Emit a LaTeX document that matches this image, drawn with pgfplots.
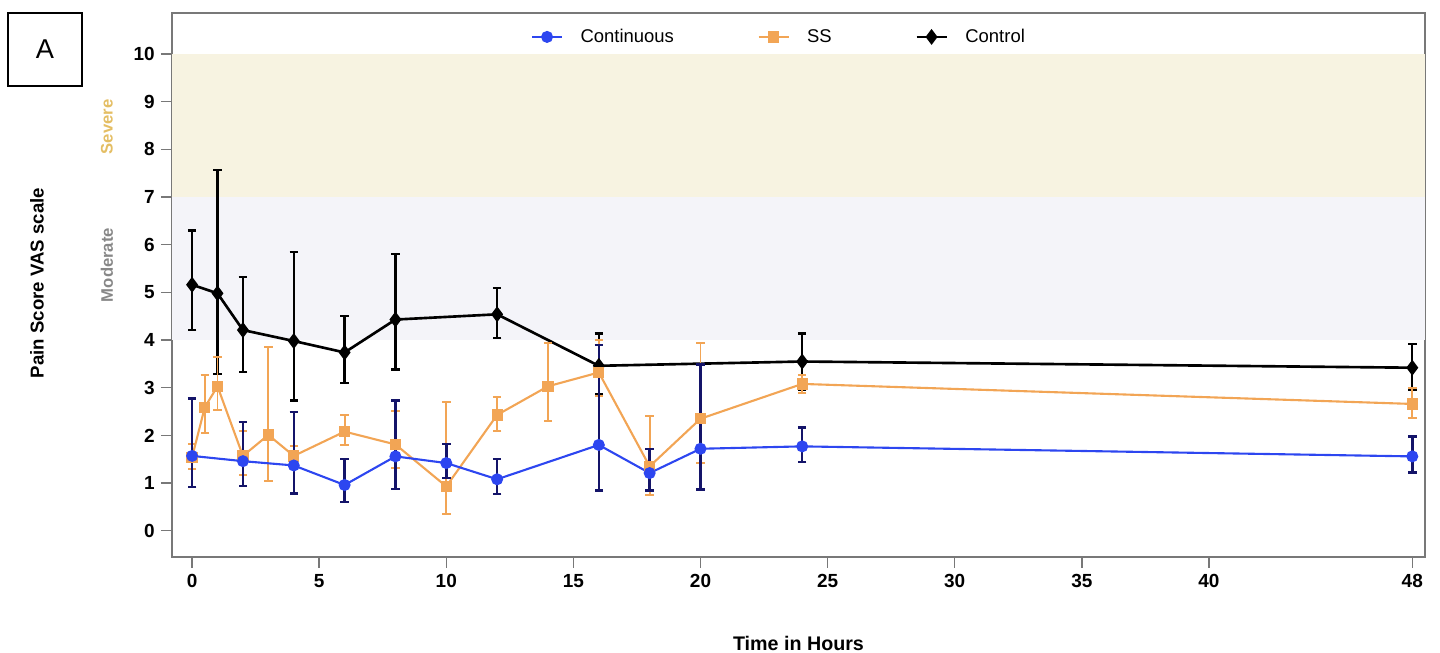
\documentclass[border=0pt]{standalone}
\usepackage{fontspec}
\setmainfont{Liberation Sans}
\usepackage{pgfplots}
\usepackage{pgfplotstable}
\pgfplotsset{compat=1.18}

\definecolor{contblue}{RGB}{45,70,240}
\definecolor{contbar}{RGB}{20,20,105}
\definecolor{ssorange}{RGB}{242,165,85}
\definecolor{severefill}{RGB}{247,243,225}
\definecolor{moderatefill}{RGB}{244,244,249}
\definecolor{severetext}{RGB}{228,190,100}
\definecolor{moderatetext}{RGB}{135,135,135}
\definecolor{framegray}{RGB}{120,120,120}

% time, value, error plus, error minus
\pgfplotstableread{
t    v     ep    em
0    1.57  1.20  0.65
2    1.46  0.82  0.52
4    1.37  1.12  0.59
6    0.96  0.55  0.36
8    1.56  1.17  0.68
10   1.42  0.40  0.31
12   1.08  0.43  0.31
16   1.80  2.10  0.96
18   1.21  0.51  0.37
20   1.72  1.77  0.85
24   1.77  0.40  0.33
48   1.56  0.42  0.34
}\continuous

\pgfplotstableread{
t    v     ep    em
0    1.54  0.28  0.24
0.5  2.59  0.67  0.53
1    3.03  0.62  0.49
2    1.57  0.53  0.41
3    2.01  1.85  0.96
4    1.57  0.21  0.27
6    2.08  0.35  0.29
8    1.81  0.71  0.50
10   0.93  1.77  0.58
12   2.43  0.37  0.33
14   3.03  0.90  0.72
16   3.32  0.68  0.50
18   1.35  1.06  0.60
20   2.35  1.58  0.92
24   3.08  0.19  0.19
48   2.66  0.33  0.30
}\ss

\pgfplotstableread{
t    v     ep    em
0    5.16  1.14  0.95
1    4.98  2.59  1.69
2    4.21  1.12  0.88
4    3.98  1.86  1.25
6    3.74  0.77  0.64
8    4.43  1.38  1.05
12   4.54  0.55  0.50
16   3.46  0.68  0.59
24   3.55  0.59  0.59
48   3.42  0.50  0.46
}\control

\begin{document}
\begin{tikzpicture}
\path[use as bounding box] (-3.44,-1.92) rectangle (25.36,11.14);
\begin{axis}[
    at={(0,0)}, anchor=south west,
    scale only axis,
    width=25.06cm, height=10.88cm,
    xmin=-0.79, xmax=48.5,
    ymin=-0.55, ymax=10.86,
    xtick={0,5,10,15,20,25,30,35,40,48},
    ytick={0,1,...,10},
    tick pos=left,
    tick align=outside,
    major tick length=0.22cm,
    axis line style={framegray, line width=0.9pt},
    tick style={framegray, line width=0.8pt},
    ticklabel style={font=\fontsize{10.8}{12}\selectfont\bfseries},
    /pgf/number format/assume math mode=true,
    legend columns=3,
    legend style={at={(axis description cs:0.485,0.956)}, anchor=center,
        draw=none, fill=none, font=\fontsize{10.5}{12}\selectfont,
        /tikz/every odd column/.append style={column sep=0.28cm},
        /tikz/every even column/.append style={column sep=1.6cm}},
]
% pain bands
\addplot[draw=none, fill=severefill, forget plot]
    coordinates {(-0.79,7) (48.5,7) (48.5,10) (-0.79,10)};
\addplot[draw=none, fill=moderatefill, forget plot]
    coordinates {(-0.79,4) (48.5,4) (48.5,7) (-0.79,7)};

\addlegendimage{contblue, line width=1.2pt, mark=*, mark size=2.8pt}
\addlegendentry{Continuous}
\addlegendimage{ssorange, line width=1.2pt, mark=square*, mark size=2.6pt}
\addlegendentry{SS}
\addlegendimage{black, line width=1.5pt, mark=diamond*, mark size=3.3pt}
\addlegendentry{Control}

\addplot[black, line width=1.5pt, mark=diamond*, mark size=3.3pt, forget plot,
    error bars/.cd, y dir=both, y explicit,
    error bar style={black, line width=1.3pt},
    error mark options={rotate=90, black, mark size=2.4pt, line width=1.3pt}]
    table[x=t, y=v, y error plus=ep, y error minus=em] {\control};

\addplot[ssorange, line width=1.2pt, mark=square*, mark size=2.6pt, forget plot,
    error bars/.cd, y dir=both, y explicit,
    error bar style={ssorange, line width=1.1pt},
    error mark options={rotate=90, ssorange, mark size=2.4pt, line width=1.1pt}]
    table[x=t, y=v, y error plus=ep, y error minus=em] {\ss};

\addplot[contblue, line width=1.2pt, mark=*, mark size=2.8pt, forget plot,
    error bars/.cd, y dir=both, y explicit,
    error bar style={contbar, line width=1.4pt},
    error mark options={rotate=90, contbar, mark size=2.4pt, line width=1.4pt}]
    table[x=t, y=v, y error plus=ep, y error minus=em] {\continuous};
\end{axis}

% panel label, axis titles, band labels
\node[draw, line width=0.8pt, minimum width=1.48cm, minimum height=1.46cm,
    font=\fontsize{15.5}{18}\selectfont] at (-2.54,10.15) {A};
\node[rotate=90, font=\fontsize{10.6}{12}\selectfont\bfseries] at (-2.70,5.48) {Pain Score VAS scale};
\node[font=\fontsize{11.2}{13}\selectfont\bfseries] at (12.53,-1.72) {Time in Hours};
\node[rotate=90, text=severetext, font=\fontsize{9.5}{11}\selectfont\bfseries] at (-1.30,8.60) {Severe};
\node[rotate=90, text=moderatetext, font=\fontsize{9.5}{11}\selectfont\bfseries] at (-1.30,5.84) {Moderate};
\end{tikzpicture}
\end{document}
